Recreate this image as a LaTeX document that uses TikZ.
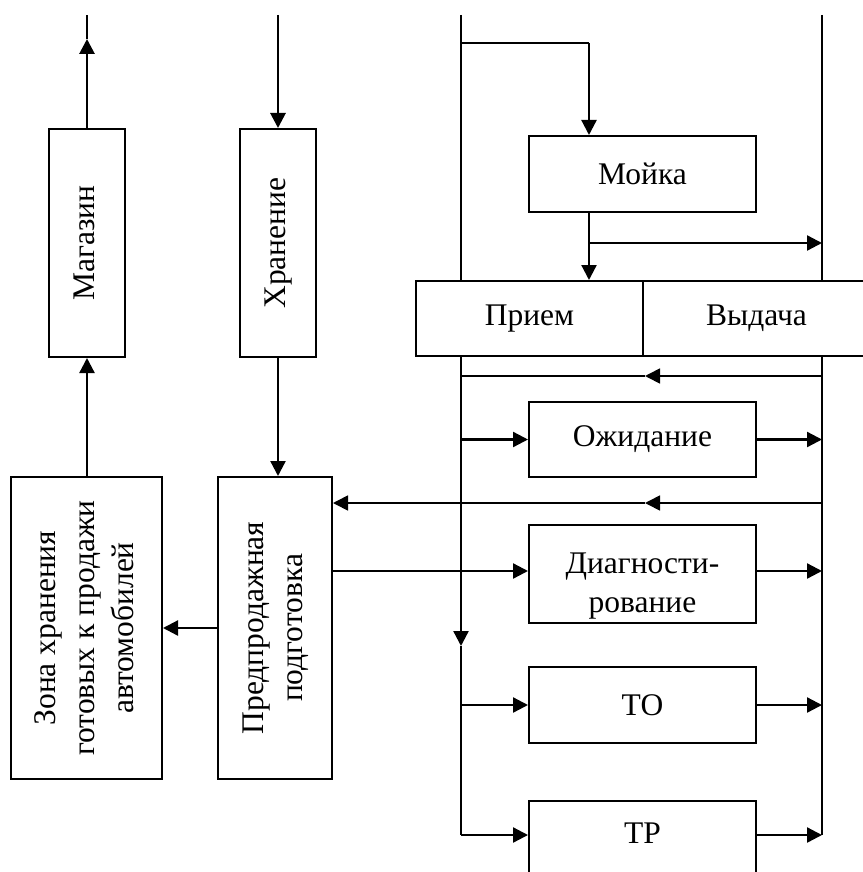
\documentclass[tikz,border=0pt]{standalone}
\usepackage{fontspec}
\setmainfont{Liberation Serif}
\usepackage{graphicx}
\usetikzlibrary{arrows.meta}

\tikzset{
	block/.style={draw, line width=2pt, minimum width=227pt, inner sep=0pt, align=center},
	vblock/.style={draw, line width=2pt, inner sep=0pt},
	flow/.style={line width=2.3pt},
	thinflow/.style={line width=1.7pt},
	arr/.style={flow, -{Triangle[length=15pt,width=15pt]}},
	thinarr/.style={thinflow, -{Triangle[length=15pt,width=15pt]}},
	every node/.style={font=\fontsize{31.5}{39}\selectfont}
}
\newcommand{\vtext}[1]{\rotatebox{90}{\begin{tabular}{@{}c@{}}#1\end{tabular}}}

\begin{document}
\begin{tikzpicture}[x=1pt, y=-1pt]
			%%%%% START %%%%%
			\useasboundingbox (0,0) rectangle (862,872);
			
			% left column
			\node[vblock, minimum width=76pt, minimum height=228pt] (magazin) at (87,243) {\vtext{Магазин}};
			\node[vblock, minimum width=76pt, minimum height=228pt] (hranenie) at (278,243) {\vtext{Хранение}};
			\node[vblock, minimum width=151pt, minimum height=302pt] (zona) at (86.5,628) {\vtext{Зона хранения\\готовых к продажи\\автомобилей}};
			\node[vblock, minimum width=114pt, minimum height=302pt] (predprod) at (275,628) {\vtext{Предпродажная\\подготовка}};
			
			% right column
			\node[block, minimum height=76pt] (moyka) at (642.5,174) {Мойка};
			\node[block, minimum height=75pt] (priem) at (529.5,318.5) {Прием};
			\node[block, minimum height=75pt] (vydacha) at (756.5,318.5) {Выдача};
			\node[block, minimum height=75pt] (ozhid) at (642.5,439.5) {Ожидание};
			\node[block, minimum height=98pt] (diag) at (642.5,574) {\rule{0pt}{44pt}Диагности-\\рование};
			\node[block, minimum height=76pt] (to) at (642.5,705) {ТО};
			\node[block, anchor=north, inner ysep=0pt, text height=42pt, text depth=38pt] (tr) at (642.5,800) {ТР};
			
			\coordinate (magtop) at (87,15);
			\coordinate (magarr) at (87,39);
			\coordinate (hrtop) at (278,15);
			\coordinate (L) at (461,15);
			\coordinate (R) at (822,15);
			\coordinate (mtop) at (589,43);
			\coordinate (mbr) at (589,243);
			\coordinate (ret1) at (822,376);
			\coordinate (ret1m) at (645,376);
			\coordinate (ret2) at (822,503);
			\coordinate (ret2m) at (645,503);
			\coordinate (dgin) at (332,571);
			\coordinate (ldown) at (461,646);
			\coordinate (lbot) at (461,835);
			\coordinate (rbot) at (822,835);
			
			% left flows
			\draw[arr, line width=2.8pt] (magazin.north) -- (magarr);
			\draw[flow, line width=2.8pt] (magarr) -- (magtop);
			\draw[arr, line width=2.8pt] (hrtop) -- (hranenie.north);
			\draw[arr] (hranenie.south) -- (hranenie.south |- predprod.north);
			\draw[arr] (magazin.south |- zona.north) -- (magazin.south);
			\draw[arr] (predprod.west) -- (zona.east);
			
			% rails
			\draw[flow] (L) -- (L |- priem.north);
			\draw[arr] (L |- priem.south) -- (ldown);
			\draw[flow] (ldown) -- (lbot);
			\draw[flow] (R) -- (R |- vydacha.north);
			\draw[flow] (R |- vydacha.south) -- (rbot);
			
			% washing
			\draw[thinflow] (L |- mtop) -- (mtop);
			\draw[arr] (mtop) -- (mtop |- moyka.north);
			\draw[arr] (mtop |- moyka.south) -- (mtop |- priem.north);
			\draw[arr] (mbr) -- (mbr -| R);
			
			% returns
			\draw[thinarr] (ret1) -- (ret1m);
			\draw[thinflow] (ret1m) -- (ret1m -| L);
			\draw[thinarr] (ret2) -- (ret2m);
			\draw[thinarr] (ret2m) -- (ret2m -| predprod.east);
			
			% posts
			\draw[arr] (L |- ozhid.west) -- (ozhid.west);
			\draw[arr] (ozhid.east) -- (ozhid.east -| R);
			\draw[arr] (dgin) -- (dgin -| diag.west);
			\draw[arr] (dgin -| diag.east) -- (dgin -| R);
			\draw[arr] (L |- to.west) -- (to.west);
			\draw[arr] (to.east) -- (to.east -| R);
			\draw[arr] (lbot) -- (lbot -| tr.west);
			\draw[arr] (lbot -| tr.east) -- (rbot);
			
			%%%%% END %%%%%
\end{tikzpicture}
\end{document}
